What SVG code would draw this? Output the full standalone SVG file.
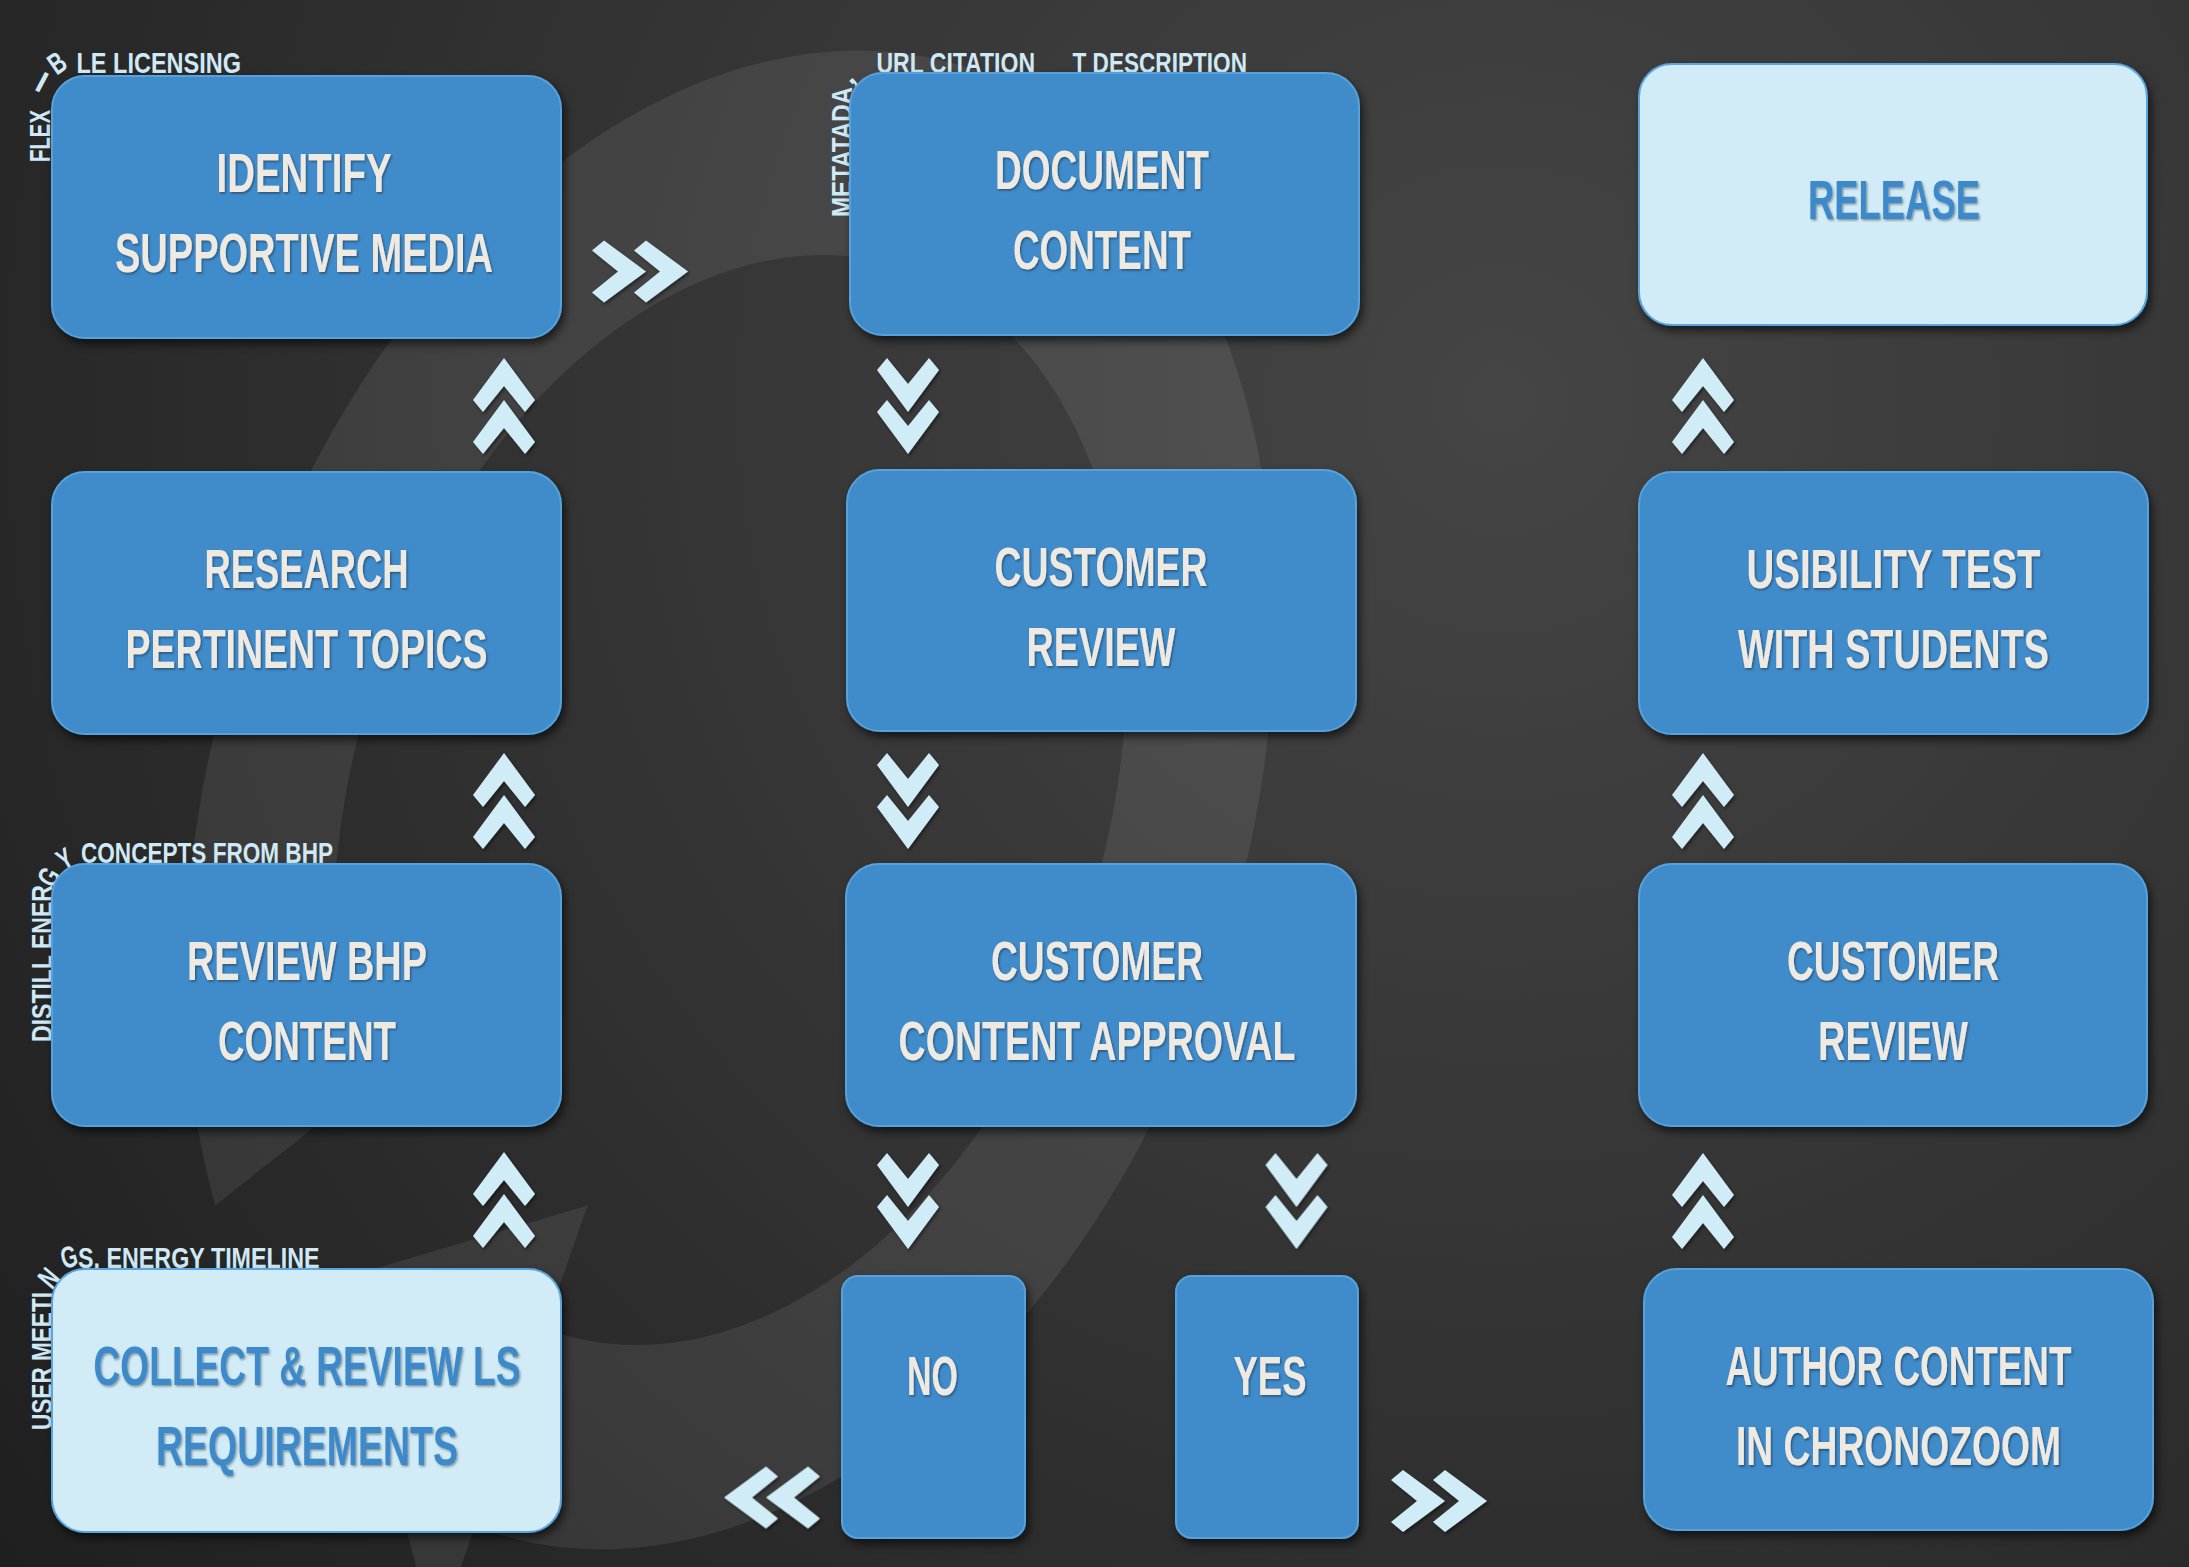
<svg xmlns="http://www.w3.org/2000/svg" width="2189" height="1567" viewBox="0 0 2189 1567">
<defs>
<radialGradient id="bg" cx="1500" cy="400" r="1900" gradientUnits="userSpaceOnUse">
<stop offset="0" stop-color="#454545"/>
<stop offset="0.5" stop-color="#333333"/>
<stop offset="1" stop-color="#1f1f1f"/>
</radialGradient>
<filter id="shadow" x="-10%" y="-10%" width="125%" height="130%">
<feDropShadow dx="3" dy="5" stdDeviation="4" flood-color="#000" flood-opacity="0.6"/>
</filter>
<filter id="tshadow" x="-10%" y="-30%" width="120%" height="170%">
<feDropShadow dx="1.2" dy="1.5" stdDeviation="0.8" flood-color="#000" flood-opacity="0.4"/>
</filter>
<filter id="cshadow" x="-20%" y="-20%" width="150%" height="150%">
<feDropShadow dx="1.5" dy="2" stdDeviation="1.5" flood-color="#000" flood-opacity="0.45"/>
</filter>
<g id="dup">
<polygon points="0,0 31,42 21,54 0,28 -21,54 -31,42"/>
<polygon points="0,42 31,84 21,96 0,70 -21,96 -31,84"/>
</g>
<style>
.box{fill:#3f8bca;stroke:#56a2dc;stroke-width:2;filter:url(#shadow)}
.lbox{fill:#d1ecf7;stroke:#5aa5dd;stroke-width:2;filter:url(#shadow)}
.t{font-family:"Liberation Sans","DejaVu Sans Condensed",sans-serif;font-weight:700;font-size:55px;fill:#eeeae2;text-anchor:middle;filter:url(#tshadow)}
.ts{font-family:"Liberation Sans","DejaVu Sans Condensed",sans-serif;font-weight:700;font-size:44px;fill:#eeeae2;text-anchor:middle;filter:url(#tshadow)}
.tl{font-family:"Liberation Sans","DejaVu Sans Condensed",sans-serif;font-weight:700;font-size:55px;fill:#3d89c9;text-anchor:middle;filter:url(#tshadow)}
.lab{font-family:"Liberation Sans","DejaVu Sans Condensed",sans-serif;font-weight:700;font-size:30px;fill:#cfeaf6}
.labc{font-family:"Liberation Sans","DejaVu Sans Condensed",sans-serif;font-weight:700;font-size:30px;fill:#cfeaf6;text-anchor:middle}
.chev{fill:#d0ecf6;filter:url(#cshadow)}
</style>
</defs>

<rect x="0" y="0" width="2189" height="1567" fill="url(#bg)"/>
<path id="ring" fill="#ffffff" fill-opacity="0.08" d="M215.3,1205.4 A515,770 18 1 1 475.1,1526.3 L435.4,1639.6 L340.4,1278.9 L587.6,1205.6 L544.6,1328.3 A375,560 18 1 0 355.4,1094.7 Z"/>

<g id="connectors" class="chev">
<use href="#dup" transform="translate(688,271.5) rotate(90)"/>
<use href="#dup" transform="translate(504,358)"/>
<use href="#dup" transform="translate(504,753)"/>
<use href="#dup" transform="translate(504,1152)"/>
<use href="#dup" transform="translate(908,454) scale(1,-1)"/>
<use href="#dup" transform="translate(908,849) scale(1,-1)"/>
<use href="#dup" transform="translate(908,1249) scale(1,-1)"/>
<use href="#dup" transform="translate(1296.5,1249) scale(1,-1)"/>
<use href="#dup" transform="translate(724,1497.5) rotate(-90)"/>
<use href="#dup" transform="translate(1487,1501) rotate(90)"/>
<use href="#dup" transform="translate(1703,358)"/>
<use href="#dup" transform="translate(1703,753)"/>
<use href="#dup" transform="translate(1703,1153)"/>
</g>

<g id="label-licensing">
<text class="lab" transform="translate(50,162) rotate(-90)" textLength="52" lengthAdjust="spacingAndGlyphs">FLEX</text>
<text class="labc" transform="translate(42,82) rotate(28)" y="10.3">I</text>
<text class="labc" transform="translate(57,63) rotate(-35) scale(0.7,1)" y="10.3">B</text>
<text class="lab" x="76.5" y="73" textLength="164.5" lengthAdjust="spacingAndGlyphs">LE LICENSING</text>
</g>
<g id="label-metadata">
<text class="lab" transform="translate(852,217) rotate(-90)" textLength="130" lengthAdjust="spacingAndGlyphs">METATADA</text>
<text class="labc" transform="translate(851,80) rotate(-45)" y="4">,</text>
<text class="lab" x="876.5" y="73" textLength="158.5" lengthAdjust="spacingAndGlyphs">URL CITATION</text>
<text class="lab" x="1072.5" y="73" textLength="174.5" lengthAdjust="spacingAndGlyphs">T DESCRIPTION</text>
</g>
<g id="label-distill">
<text class="lab" transform="translate(52,1042) rotate(-90)" textLength="157" lengthAdjust="spacingAndGlyphs">DISTILL ENER</text>
<text class="labc" transform="translate(49,877) rotate(-60) scale(0.7,1)" y="10.3">G</text>
<text class="labc" transform="translate(65,859) rotate(-30) scale(0.7,1)" y="10.3">Y</text>
<text class="lab" x="81" y="863" textLength="252" lengthAdjust="spacingAndGlyphs">CONCEPTS FROM BHP</text>
</g>
<g id="label-meetings">
<text class="lab" transform="translate(52,1430) rotate(-90)" textLength="138" lengthAdjust="spacingAndGlyphs">USER MEETI</text>
<text class="labc" transform="translate(49,1278) rotate(-50) scale(0.7,1)" y="10.3">N</text>
<text class="labc" transform="translate(69,1257) rotate(-15) scale(0.7,1)" y="10.3">G</text>
<text class="lab" x="78" y="1268" textLength="241.6" lengthAdjust="spacingAndGlyphs">S, ENERGY TIMELINE</text>
</g>

<g id="node-identify">
<rect class="box" x="52" y="76" width="509" height="262" rx="33"/>
<text class="t" x="304" y="192" textLength="175" lengthAdjust="spacingAndGlyphs">IDENTIFY</text>
<text class="t" x="304" y="272" textLength="378" lengthAdjust="spacingAndGlyphs">SUPPORTIVE MEDIA</text>
</g>
<g id="node-research">
<rect class="box" x="52" y="472" width="509" height="262" rx="33"/>
<text class="t" x="306.5" y="588" textLength="204" lengthAdjust="spacingAndGlyphs">RESEARCH</text>
<text class="t" x="306.5" y="668" textLength="362" lengthAdjust="spacingAndGlyphs">PERTINENT TOPICS</text>
</g>
<g id="node-review-bhp">
<rect class="box" x="52" y="864" width="509" height="262" rx="33"/>
<text class="t" x="307" y="980" textLength="240" lengthAdjust="spacingAndGlyphs">REVIEW BHP</text>
<text class="t" x="307" y="1060" textLength="178" lengthAdjust="spacingAndGlyphs">CONTENT</text>
</g>
<g id="node-collect">
<rect class="lbox" x="52" y="1269" width="509" height="263" rx="33"/>
<text class="tl" x="307" y="1385" textLength="427" lengthAdjust="spacingAndGlyphs">COLLECT &amp; REVIEW LS</text>
<text class="tl" x="307" y="1465" textLength="302" lengthAdjust="spacingAndGlyphs">REQUIREMENTS</text>
</g>
<g id="node-document">
<rect class="box" x="850" y="73" width="509" height="262" rx="33"/>
<text class="t" x="1102" y="189" textLength="214" lengthAdjust="spacingAndGlyphs">DOCUMENT</text>
<text class="t" x="1102" y="269" textLength="178" lengthAdjust="spacingAndGlyphs">CONTENT</text>
</g>
<g id="node-customer-review-1">
<rect class="box" x="847" y="470" width="509" height="261" rx="33"/>
<text class="t" x="1101" y="586" textLength="213" lengthAdjust="spacingAndGlyphs">CUSTOMER</text>
<text class="t" x="1101" y="666" textLength="149" lengthAdjust="spacingAndGlyphs">REVIEW</text>
</g>
<g id="node-approval">
<rect class="box" x="846" y="864" width="510" height="262" rx="33"/>
<text class="t" x="1097" y="980" textLength="212" lengthAdjust="spacingAndGlyphs">CUSTOMER</text>
<text class="t" x="1097" y="1060" textLength="397" lengthAdjust="spacingAndGlyphs">CONTENT APPROVAL</text>
</g>
<g id="node-no">
<rect class="box" x="842" y="1276" width="183" height="262" rx="16"/>
<text class="t" x="932.5" y="1395" textLength="51" lengthAdjust="spacingAndGlyphs">NO</text>
</g>
<g id="node-yes">
<rect class="box" x="1176" y="1276" width="182" height="262" rx="16"/>
<text class="t" x="1270" y="1395" textLength="73" lengthAdjust="spacingAndGlyphs">YES</text>
</g>
<g id="node-release">
<rect class="lbox" x="1639" y="64" width="508" height="261" rx="33"/>
<text class="tl" x="1894" y="219" textLength="172" lengthAdjust="spacingAndGlyphs">RELEASE</text>
</g>
<g id="node-usability">
<rect class="box" x="1639" y="472" width="509" height="262" rx="33"/>
<text class="t" x="1893.5" y="588" textLength="294" lengthAdjust="spacingAndGlyphs">USIBILITY TEST</text>
<text class="t" x="1893.5" y="668" textLength="311" lengthAdjust="spacingAndGlyphs">WITH STUDENTS</text>
</g>
<g id="node-customer-review-2">
<rect class="box" x="1639" y="864" width="508" height="262" rx="33"/>
<text class="t" x="1893" y="980" textLength="212" lengthAdjust="spacingAndGlyphs">CUSTOMER</text>
<text class="t" x="1893" y="1060" textLength="150" lengthAdjust="spacingAndGlyphs">REVIEW</text>
</g>
<g id="node-author">
<rect class="box" x="1644" y="1269" width="509" height="261" rx="33"/>
<text class="ts" transform="translate(1898.5,1385) scale(1,1.25)" textLength="346" lengthAdjust="spacingAndGlyphs">AUTHOR CONTENT</text>
<text class="ts" transform="translate(1898.5,1465) scale(1,1.25)" textLength="325" lengthAdjust="spacingAndGlyphs">IN CHRONOZOOM</text>
</g>
</svg>
